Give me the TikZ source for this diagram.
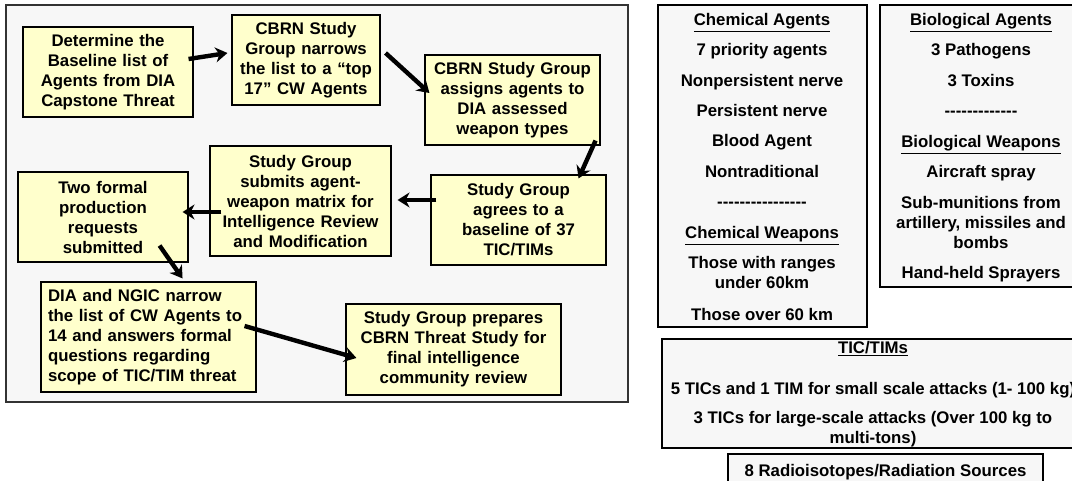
\documentclass[tikz,border=0pt]{standalone}
\usepackage{fontspec}
\setmainfont{Liberation Sans}[Ligatures=TeXOff]
\usetikzlibrary{arrows.meta}

\definecolor{boxyellow}{HTML}{FFFFCC}
\definecolor{panelgray}{HTML}{F7F7F7}

\tikzset{
  flowbox/.style={draw, fill=boxyellow, line width=1.1pt, align=center,
    inner xsep=2pt, inner ysep=0pt, font=\fontsize{16.8}{20}\selectfont\bfseries},
  panel/.style={draw, fill=panelgray, line width=1.1pt},
  listtext/.style={align=center, inner sep=0pt, anchor=base, font=\fontsize{16.8}{20}\selectfont\bfseries},
  flowarrow/.style={line width=4.4pt, -{Stealth[length=12pt,width=15pt]}}
}

\begin{document}
\begin{tikzpicture}[x=1pt,y=-1pt]
    \useasboundingbox (0,0) rectangle (1072,481);

    % Process frame
    \draw[panel, draw=black!80] (6,5) rectangle (628,402);

    % Process steps
    \node[flowbox, text width=166pt, minimum height=90pt] (baseline) at (108,72)
        {Determine the\\Baseline list of\\Agents from DIA\\Capstone Threat};
    \node[flowbox, text width=144pt, minimum height=90pt] (narrow) at (306,60)
        {CBRN Study\\Group narrows\\the list to a “top\\17” CW Agents};
    \node[flowbox, text width=171pt, minimum height=90pt] (assign) at (512.5,100)
        {CBRN Study Group\\assigns  agents  to\\DIA assessed\\weapon types};
    \node[flowbox, text width=171pt, minimum height=90pt] (agree) at (518.5,220)
        {Study Group\\agrees to a\\baseline of 37\\TIC/TIMs};
    \node[flowbox, text width=177pt, minimum height=110pt] (submit) at (300.5,201)
        {Study Group\\submits agent-\\weapon matrix for\\Intelligence Review\\and Modification};
    \node[flowbox, text width=166pt, minimum height=90pt] (request) at (103,217)
        {Two  formal\\production\\requests\\submitted};
    \node[flowbox, align=left, inner xsep=7pt, text width=201pt, minimum height=110pt] (ngic) at (148.5,337)
        {DIA  and NGIC narrow\\the list of CW Agents to\\14 and answers formal\\questions regarding\\scope of TIC/TIM threat};
    \node[flowbox, text width=211pt, minimum height=91pt] (prepare) at (453.5,349.5)
        {Study Group prepares\\CBRN Threat Study for\\final intelligence\\community review};

    % Flow
    \draw[flowarrow] ([shift={(-5,-13)}]baseline.east) -- ([shift={(-4,-7)}]narrow.west);
    \draw[flowarrow] ([shift={(5,-7)}]narrow.east) -- ([shift={(5,-7)}]assign.west);
    \draw[flowarrow] ([shift={(-5,-5)}]assign.south east) -- ([shift={(-28,4)}]agree.north east);
    \draw[flowarrow] ([shift={(6,-20)}]agree.west) -- ([shift={(6,-1)}]submit.east);
    \draw[flowarrow] ([shift={(12,11)}]submit.west) -- ([shift={(-6,-5)}]request.east);
    \draw[flowarrow] ([shift={(-29,-17)}]request.south east) -- ([shift={(-74,-3)}]ngic.north east);
    \draw[flowarrow] ([shift={(-12,-11)}]ngic.east) -- ([shift={(11,8.5)}]prepare.west);

    % Chemical panel
    \draw[panel] (658,5) rectangle (867,327);
    \node[listtext] (chemhead) at (762,26) {\underline{Chemical Agents}};
    \node[listtext] (chemprio) at (762,56) {7 priority agents};
    \node[listtext] (chemnon) at (762,87) {Nonpersistent nerve};
    \node[listtext] (chempers) at (762,117) {Persistent nerve};
    \node[listtext] (chemblood) at (762,147) {Blood Agent};
    \node[listtext] (chemtrad) at (762,178) {Nontraditional};
    \node[listtext] (chemdash) at (762,208) {----------------};
    \node[listtext] (chemweap) at (762,239) {\underline{Chemical Weapons}};
    \node[listtext] (chemunder) at (762,289) {Those with ranges\\under 60km};
    \node[listtext] (chemover) at (762,320) {Those over 60 km};

    % Biological panel
    \draw[panel] (880,5) rectangle (1082,287);
    \node[listtext] (biohead) at (981,26) {\underline{Biological Agents}};
    \node[listtext] (biopath) at (981,56) {3 Pathogens};
    \node[listtext] (biotox) at (981,87) {3 Toxins};
    \node[listtext] (biodash) at (981,117) {-------------};
    \node[listtext] (bioweap) at (981,148) {\underline{Biological Weapons}};
    \node[listtext] (bioair) at (981,178) {Aircraft  spray};
    \node[listtext] (biosub) at (981,249) {Sub-munitions from\\artillery, missiles and\\bombs};
    \node[listtext] (biohand) at (981,279) {Hand-held Sprayers};

    % TIC/TIM panel
    \draw[panel] (662,339) rectangle (1084,448);
    \node[listtext] (tichead) at (873,353) {\underline{TIC/TIMs}};
    \node[listtext] (ticsmall) at (873,394) {5 TICs and 1 TIM for small scale attacks (1- 100 kg)};
    \node[listtext] (ticlarge) at (873,443) {3 TICs for large-scale attacks  (Over 100 kg to\\multi-tons)};

    % Radiological panel
    \draw[panel] (728,454) rectangle (1043,495);
    \node[listtext] (radio) at (885.5,476) {8  Radioisotopes/Radiation Sources};
\end{tikzpicture}
\end{document}
